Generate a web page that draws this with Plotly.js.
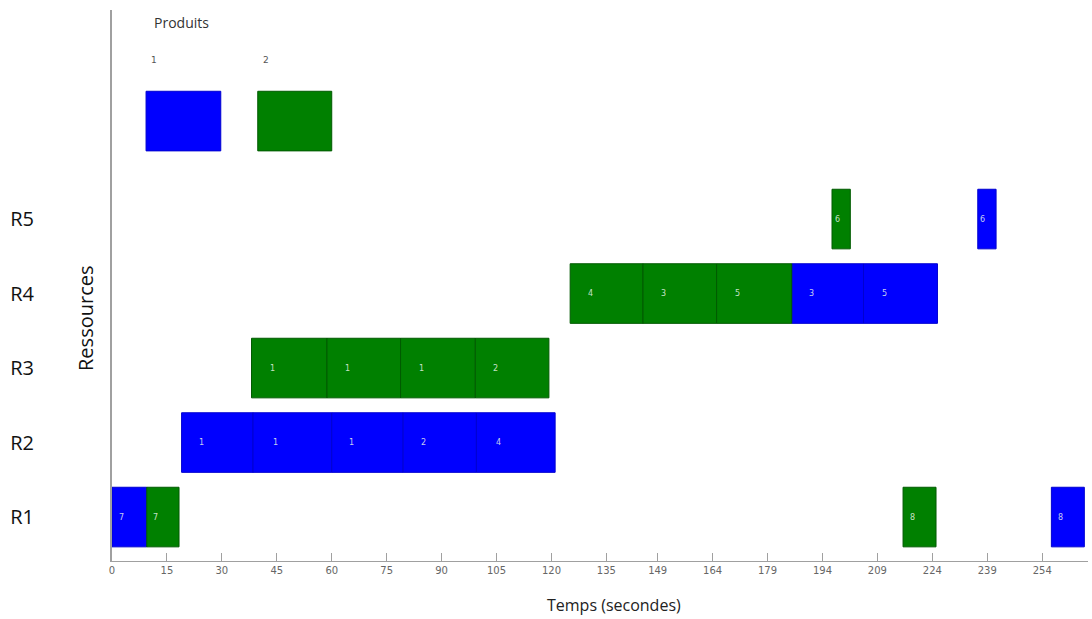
<!DOCTYPE html>
<html>
<head>
<meta charset="utf-8">
<script src="https://cdn.plot.ly/plotly-3.0.1.min.js"></script>
<style>html,body{margin:0;padding:0;background:#fff;}#chart{width:1092px;height:619px;}</style>
</head>
<body>
<div id="chart"></div>
<script>
// Resources (rows) and tick labels
const resourceNames = ['R1', 'R2', 'R3', 'R4', 'R5'];
const resourceValues = [1, 2, 3, 4, 5];
const timeTicks = [0, 15, 30, 45, 60, 75, 90, 105, 120, 135, 149, 164, 179, 194, 209, 224, 239, 254];

// Product 1 (blue) operations
const p1Resource = [1, 2, 2, 2, 2, 2, 4, 4, 5, 1];
const p1Start    = [0, 19, 38.5, 60, 79.5, 99.5, 185.6, 205.2, 236.4, 256.5];
const p1End      = [9.5, 38.5, 60, 79.5, 99.5, 121, 205.2, 225.4, 241.4, 265.5];
const p1Label    = ['7', '1', '1', '1', '2', '4', '3', '5', '6', '8'];

// Product 2 (green) operations
const p2Resource = [1, 1, 3, 3, 3, 3, 4, 4, 4, 5];
const p2Start    = [9.5, 216, 38.1, 58.7, 78.8, 99.2, 125.1, 145, 165.1, 196.6];
const p2End      = [18.3, 225, 58.7, 78.8, 99.2, 119.3, 145, 165.1, 185.6, 201.6];
const p2Label    = ['7', '8', '1', '1', '1', '2', '4', '3', '5', '6'];

// Legend
const productNames = ['1', '2'];
const productColors = ['#0000ff', '#008000'];
const productLineColors = ['#0000d0', '#005a00'];

function durations(s, e) { return s.map((v, i) => e[i] - v); }

const traces = [
  {
    type: 'bar', orientation: 'h', name: productNames[0],
    y: p1Resource, base: p1Start, x: durations(p1Start, p1End),
    width: 0.8,
    marker: {color: productColors[0], line: {color: productLineColors[0], width: 1}},
    hoverinfo: 'skip', showlegend: false
  },
  {
    type: 'bar', orientation: 'h', name: productNames[1],
    y: p2Resource, base: p2Start, x: durations(p2Start, p2End),
    width: 0.8,
    marker: {color: productColors[1], line: {color: productLineColors[1], width: 1}},
    hoverinfo: 'skip', showlegend: false
  }
];

const annotations = [];
function addLabels(res, s, e, lab) {
  res.forEach((r, i) => {
    annotations.push({
      x: s[i] + 0.28 * (e[i] - s[i]), y: r, xref: 'x', yref: 'y',
      text: lab[i], showarrow: false, xanchor: 'center', yanchor: 'middle',
      font: {family: 'DejaVu Sans, sans-serif', size: 8, color: 'rgba(235,245,235,0.85)'}
    });
  });
}
addLabels(p1Resource, p1Start, p1End, p1Label);
addLabels(p2Resource, p2Start, p2End, p2Label);

// legend swatches and labels
const legendX0 = [9.3, 39.8];
const legendX1 = [29.7, 60];
const shapes = [];
productNames.forEach((n, i) => {
  shapes.push({
    type: 'rect', xref: 'x', yref: 'y', x0: legendX0[i], x1: legendX1[i],
    y0: 5.915, y1: 6.715, fillcolor: productColors[i],
    line: {color: productLineColors[i], width: 1}
  });
  annotations.push({
    x: legendX0[i] + 0.8, y: 7.13, xref: 'x', yref: 'y', text: n, showarrow: false,
    xanchor: 'left', yanchor: 'middle',
    font: {family: 'DejaVu Sans, sans-serif', size: 9, color: '#555'}
  });
});
annotations.push({
  x: 11.0, y: 7.64, xref: 'x', yref: 'y', text: 'Produits', showarrow: false,
  xanchor: 'left', yanchor: 'middle',
  font: {family: 'Open Sans, sans-serif', size: 14, color: '#333'}
});
annotations.push({
  x: -0.0277, y: 0.441, xref: 'paper', yref: 'paper', text: 'Ressources', showarrow: false,
  textangle: -90, xanchor: 'center', yanchor: 'middle',
  font: {family: 'Open Sans, sans-serif', size: 20, color: '#111'}
});
annotations.push({
  x: 0.514, y: -0.08, xref: 'paper', yref: 'paper', text: 'Temps (secondes)', showarrow: false,
  xanchor: 'center', yanchor: 'middle',
  font: {family: 'Open Sans, sans-serif', size: 16, color: '#222'}
});

const layout = {
  width: 1092, height: 619,
  margin: {l: 112, r: 4, t: 10, b: 58},
  paper_bgcolor: '#fff', plot_bgcolor: '#fff',
  barmode: 'overlay',
  showlegend: false,
  xaxis: {
    range: [0, 266.5], showgrid: false, zeroline: false,
    showline: true, linecolor: '#a0a0a0', linewidth: 1,
    tickmode: 'array', tickvals: timeTicks, ticktext: timeTicks.map(String),
    ticks: 'inside', ticklen: 8, tickcolor: '#a0a0a0',
    tickfont: {family: 'DejaVu Sans, sans-serif', size: 10, color: '#666'},
    fixedrange: true
  },
  yaxis: {
    range: [0.41, 7.806], showgrid: false, zeroline: false,
    showline: true, linecolor: '#a0a0a0', linewidth: 2,
    tickmode: 'array', tickvals: resourceValues, ticktext: resourceNames,
    ticks: '', ticklabelstandoff: 72,
    tickfont: {family: 'Open Sans, sans-serif', size: 20, color: '#111'},
    fixedrange: true
  },
  shapes: shapes,
  annotations: annotations
};

Plotly.newPlot('chart', traces, layout, {displayModeBar: false, staticPlot: true});
</script>
</body>
</html>
